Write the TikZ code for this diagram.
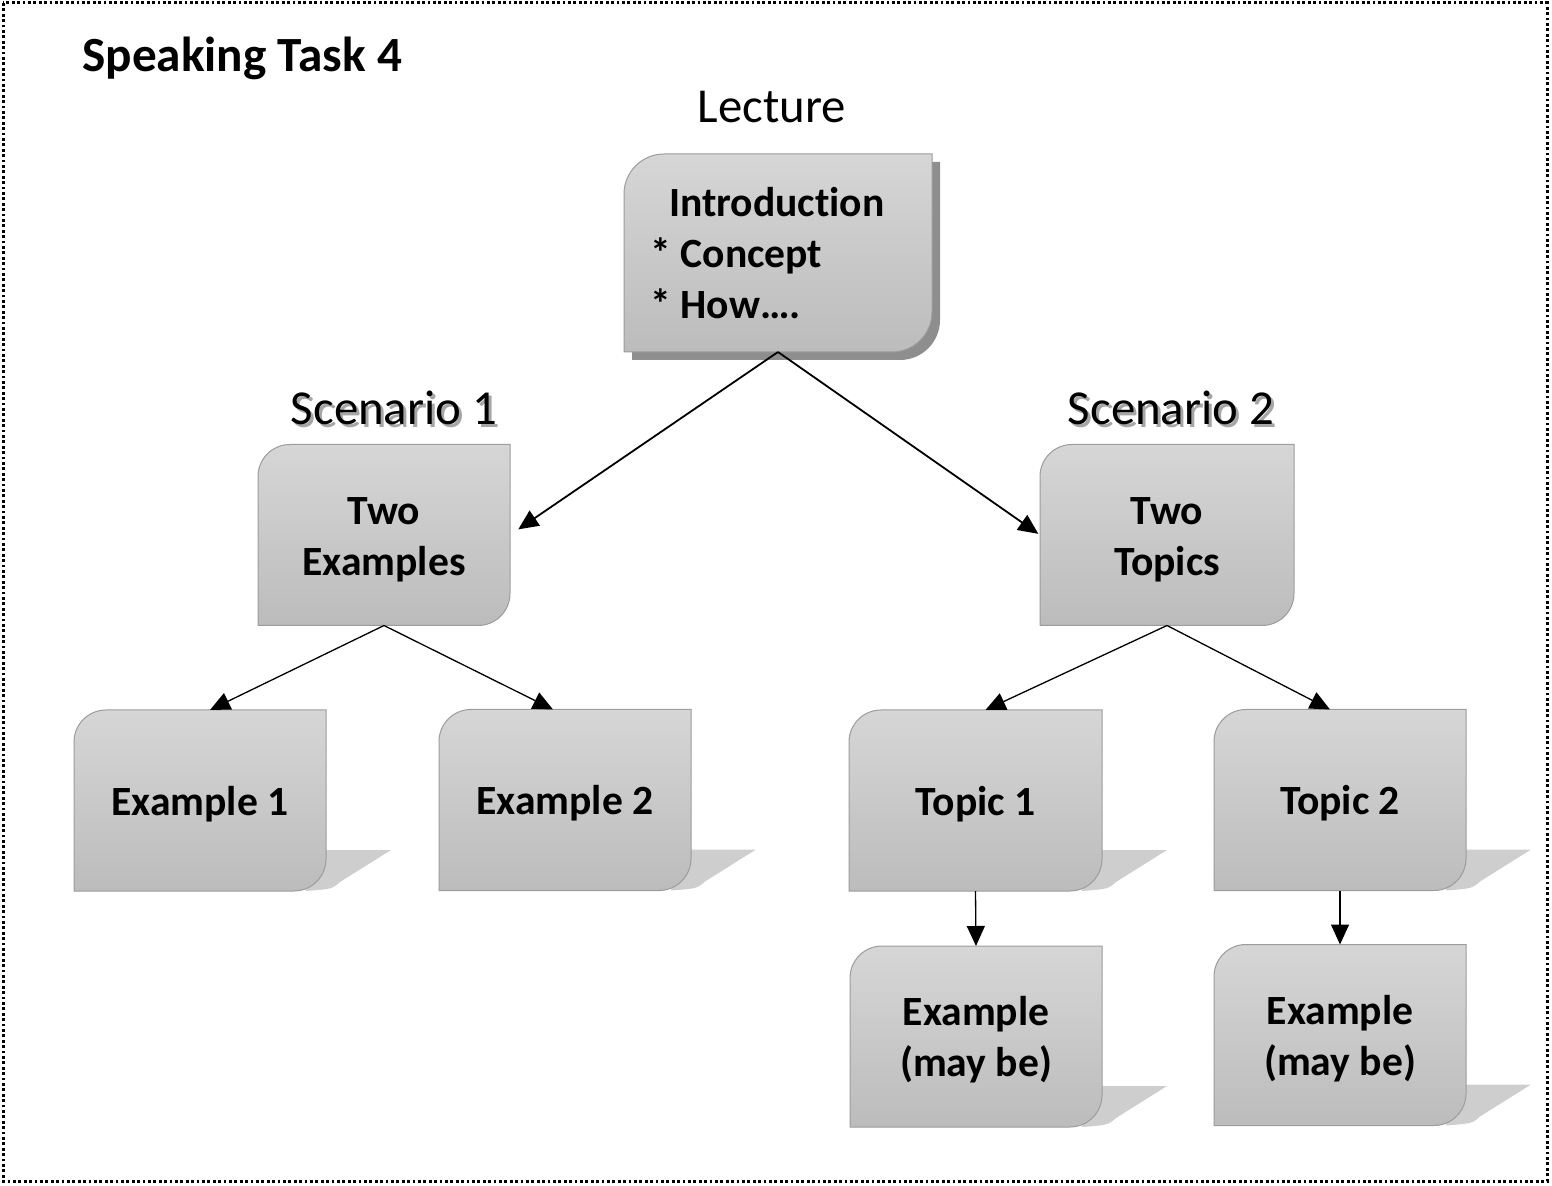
\documentclass[tikz,border=0pt]{standalone}
\usepackage{fontspec}
\setmainfont{Carlito}[Ligatures=NoCommon]
\usetikzlibrary{calc,arrows.meta}
\pgfdeclarelayer{background}
\pgfsetlayers{background,main}
\definecolor{boxtop}{HTML}{D6D6D6}
\definecolor{boxbot}{HTML}{BCBCBC}
\definecolor{boxline}{HTML}{9C9C9C}
\definecolor{dropgray}{HTML}{8E8E8E}
\definecolor{flatshadow}{HTML}{CECECE}
\newcommand\snipbox[3][]{%
  \path[#1] (#2.south west) -- ($(#2.north west)+(0,#3)$)
    .. controls ($(#2.north west)+(0,0.448*#3)$) and ($(#2.north west)+(0.448*#3,0)$) .. ($(#2.north west)+(#3,0)$)
    -- (#2.north east) -- ($(#2.south east)+(0,-#3)$)
    .. controls ($(#2.south east)+(0,-0.448*#3)$) and ($(#2.south east)+(-0.448*#3,0)$) .. ($(#2.south east)+(-#3,0)$)
    -- cycle;}
\newcommand\flatshadow[1]{%
  \fill[flatshadow] ($(#1.south east)+(-12,-41)$) -- ($(#1.south east)+(65,-41)$)
    -- ($(#1.south east)+(14,-9)$) .. controls ($(#1.south east)+(6,-2)$) .. ($(#1.south east)+(-20,0)$) -- cycle;}
\newcommand\boxlines[1]{\raisebox{-2.3pt}[\height][\depth]{\begin{tabular}{@{}c@{}}#1\end{tabular}}}
\tikzset{
  boxtxt/.style={font=\fontsize{20.8}{25.5}\selectfont\bfseries, align=center, inner sep=0pt, outer sep=0pt,
                 minimum width=126pt, minimum height=90.5pt},
  heading/.style={font=\fontsize{24.4}{29}\selectfont, inner sep=0pt},
  headshade/.style={heading, text=black!35},
  titletxt/.style={font=\fontsize{24.6}{29}\selectfont\bfseries, inner sep=0pt},
  boxpaint/.style={top color=boxtop, bottom color=boxbot, draw=boxline, line width=0.5pt},
  bigarr/.style={line width=0.9pt, -{Triangle[length=10pt,width=9pt]}},
  smallarr/.style={line width=0.65pt, -{Triangle[length=10pt,width=9pt]}},
}
\begin{document}
\begin{tikzpicture}[x=0.5pt,y=-0.5pt]
\useasboundingbox (0,0) rectangle (1552,1186);
\draw[line width=1.5pt, dash pattern=on 1.4pt off 1.3pt] (3,3) rectangle (1547,1181);

\node[titletxt, anchor=base west] (title) at (82,72) {Speaking Task 4};
\node[heading, anchor=base] (lecture) at (772,123) {Lecture};
\node[headshade, anchor=base] (sc1shade) at (397,428) {Scenario 1};
\node[heading, anchor=base] (sc1) at (394,425) {Scenario 1};
\node[headshade, anchor=base] (sc2shade) at (1174,428) {Scenario 2};
\node[heading, anchor=base] (sc2) at (1171,425) {Scenario 2};

\node[boxtxt, align=left, minimum width=154pt, minimum height=99pt, text width=128pt] (intro) at (778,253)
  {\hspace*{9.5pt}Introduction\\{*}\kern5pt Concept\\{*}\kern5pt How….};
\node[boxtxt] (twoex) at (384,535) {\boxlines{Two\\Examples}};
\node[boxtxt, minimum width=127pt] (twotop) at (1167,535) {\boxlines{Two\\Topics}};
\node[boxtxt] (ex1) at (200,800.5) {\boxlines{Example 1}};
\node[boxtxt] (ex2) at (565,800) {\boxlines{Example 2}};
\node[boxtxt, minimum width=126.5pt] (top1) at (975.5,800.5) {\boxlines{Topic 1}};
\node[boxtxt] (top2) at (1340,800) {\boxlines{Topic 2}};
\node[boxtxt] (may1) at (976,1036.5) {\boxlines{Example\\(may be)}};
\node[boxtxt] (may2) at (1340,1035) {\boxlines{Example\\(may be)}};

\begin{pgfonlayer}{background}
  \snipbox[fill=dropgray, transform canvas={shift={(4pt,-4pt)}}]{intro}{40}
  \snipbox[boxpaint]{intro}{40}
  \foreach \b in {twoex,twotop}{\snipbox[boxpaint]{\b}{32}}
  \foreach \b in {ex1,ex2,top1,top2,may1,may2}{\flatshadow{\b}\snipbox[boxpaint]{\b}{32}}
\end{pgfonlayer}

\draw[bigarr, shorten >=5pt] (intro.south) -- (twoex.east);
\draw[bigarr, shorten >=1pt] (intro.south) -- (twotop.west);
\draw[smallarr] (twoex.south) -- ($(ex1.north)+(10,0)$);
\draw[smallarr] (twoex.south) -- ($(ex2.north)+(-12,0)$);
\draw[smallarr] (twotop.south) -- ($(top1.north)+(10,0)$);
\draw[smallarr] (twotop.south) -- ($(top2.north)+(-10,0)$);
\draw[smallarr] (top1.south) -- (may1.north);
\draw[smallarr] (top2.south) -- (may2.north);
\end{tikzpicture}
\end{document}
